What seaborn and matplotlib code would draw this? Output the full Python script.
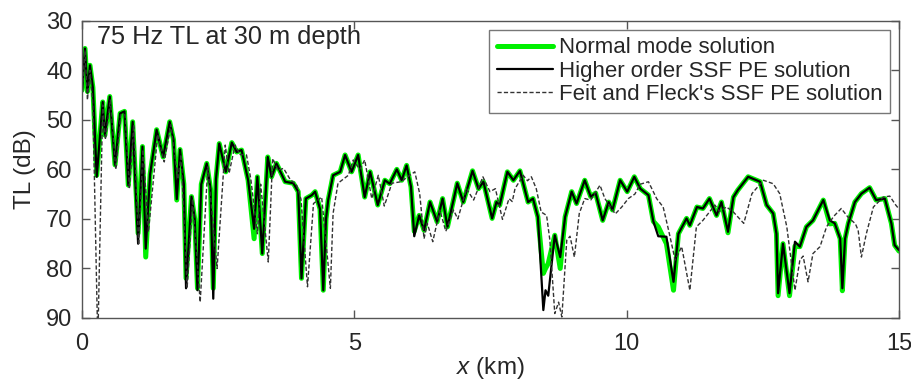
import numpy as np
import pandas as pd
import matplotlib
matplotlib.use("Agg")
import matplotlib.pyplot as plt
import seaborn as sns

# ---------------- data ----------------
range_km = [0.0, 0.055, 0.10, 0.147, 0.20, 0.27, 0.38, 0.42, 0.51, 0.606, 0.70, 0.78, 0.85, 0.93,
            1.03, 1.11, 1.17, 1.25, 1.37, 1.49, 1.61, 1.68, 1.74, 1.80, 1.87, 1.91, 2.01, 2.07,
            2.12, 2.19, 2.29, 2.36, 2.41, 2.46, 2.52, 2.64, 2.75, 2.84, 2.93, 3.05, 3.16, 3.22,
            3.31, 3.41, 3.48, 3.57, 3.73, 3.88, 3.97, 4.03, 4.11, 4.22, 4.28, 4.37, 4.43, 4.48,
            4.52, 4.61, 4.74, 4.83, 4.95, 5.07, 5.19, 5.29, 5.43, 5.56, 5.65, 5.78, 5.87, 5.96,
            6.04, 6.10, 6.19, 6.28, 6.39, 6.52, 6.62, 6.71, 6.89, 7.00, 7.17, 7.28, 7.37, 7.53,
            7.61, 7.67, 7.81, 7.92, 8.04, 8.19, 8.28, 8.37, 8.47, 8.51, 8.56, 8.68, 8.78, 8.87,
            8.99, 9.08, 9.23, 9.34, 9.43, 9.56, 9.67, 9.74, 9.88, 10.01, 10.14, 10.25, 10.40,
            10.49, 10.58, 10.73, 10.86, 10.95, 11.10, 11.16, 11.29, 11.40, 11.52, 11.65, 11.74,
            11.86, 11.96, 12.04, 12.23, 12.45, 12.57, 12.69, 12.75, 12.78, 12.87, 12.99, 13.09,
            13.18, 13.30, 13.42, 13.61, 13.73, 13.82, 13.92, 13.96, 14.01, 14.07, 14.19, 14.31,
            14.46, 14.58, 14.74, 14.86, 14.92, 15.0]

tl_normal_mode = [44.0, 35.6, 44.3, 39.0, 43.5, 61.2, 46.4, 53.1, 45.3, 59.1, 48.7, 48.3, 63.2, 50.4,
                  72.9, 55.4, 77.7, 61.0, 52.0, 57.5, 50.4, 54.0, 66.2, 56.0, 63.0, 82.0, 65.5, 70.0,
                  84.0, 63.0, 58.8, 64.0, 84.0, 62.0, 54.8, 60.5, 54.6, 56.5, 56.1, 62.2, 74.0, 61.5,
                  77.0, 57.5, 61.5, 58.8, 62.5, 62.8, 64.5, 82.0, 65.9, 65.2, 64.5, 68.0, 84.4, 70.0,
                  66.2, 61.2, 60.5, 57.1, 60.5, 57.1, 65.6, 60.5, 67.2, 62.2, 62.9, 60.0, 62.2, 59.2,
                  63.5, 72.5, 69.3, 72.3, 66.6, 70.6, 65.9, 71.6, 62.8, 66.6, 60.3, 63.9, 62.5, 69.9,
                  66.6, 67.2, 60.5, 62.2, 60.3, 66.6, 65.9, 69.6, 81.0, 80.0, 79.0, 73.3, 80.0, 69.6,
                  64.5, 66.9, 62.2, 65.5, 64.8, 70.3, 66.6, 68.2, 62.2, 64.5, 61.5, 63.9, 65.2,
                  70.5, 71.6, 75.0, 84.4, 73.0, 69.9, 71.3, 67.6, 67.9, 65.9, 69.3, 66.6,
                  72.8, 65.6, 64.2, 61.5, 62.5, 67.2, 68.9, 73.0, 85.5, 75.0, 85.5, 75.5,
                  75.6, 71.6, 70.3, 66.2, 71.0, 70.9, 74.0, 84.5, 74.0, 70.9, 66.6, 64.9,
                  63.7, 66.2, 65.9, 70.9, 75.3, 76.5]

tl_higher_order = [44.5, 35.6, 44.5, 39.0, 43.5, 61.5, 46.4, 53.1, 45.3, 59.1, 48.7, 48.3, 63.2, 50.4,
                   75.0, 55.4, 76.0, 61.0, 52.0, 57.5, 50.4, 54.0, 66.0, 56.0, 63.0, 84.0, 65.5, 70.0,
                   84.4, 63.0, 58.8, 64.0, 86.1, 62.0, 54.8, 60.5, 54.6, 56.5, 56.1, 62.2, 72.0, 61.5,
                   77.0, 57.5, 61.5, 58.8, 62.5, 62.8, 64.5, 82.0, 65.9, 65.2, 64.5, 68.0, 84.4, 70.0,
                   66.2, 61.2, 60.5, 57.1, 60.5, 57.1, 65.6, 60.5, 67.2, 62.2, 62.9, 60.0, 62.2, 59.2,
                   63.5, 73.5, 69.3, 72.3, 66.6, 70.6, 65.9, 71.6, 62.8, 66.6, 60.3, 63.9, 62.5, 69.9,
                   66.6, 67.2, 60.5, 62.2, 60.3, 66.6, 65.9, 69.6, 88.4, 84.4, 85.5, 73.3, 77.7, 69.6,
                   64.5, 66.9, 62.2, 65.5, 64.8, 70.3, 66.6, 68.2, 62.2, 64.5, 61.5, 63.9, 65.2,
                   70.5, 73.5, 73.6, 82.7, 73.0, 69.9, 71.3, 67.6, 67.9, 65.9, 69.3, 66.6,
                   72.6, 65.6, 64.2, 61.5, 62.5, 67.2, 68.9, 73.0, 85.0, 75.0, 85.0, 74.6,
                   75.6, 71.6, 70.3, 66.2, 70.3, 70.9, 74.0, 84.0, 74.0, 70.9, 66.6, 64.9,
                   63.7, 66.2, 65.9, 70.9, 75.3, 76.3]

range_km_feit = [0.0, 0.055, 0.10, 0.147, 0.20, 0.29, 0.38, 0.43, 0.52, 0.62, 0.71, 0.79, 0.87, 0.95,
                 1.04, 1.12, 1.22, 1.39, 1.51, 1.63, 1.76, 1.82, 1.93, 2.03, 2.17, 2.31, 2.48, 2.63,
                 2.70, 2.81, 2.90, 3.02, 3.10, 3.22, 3.28, 3.42, 3.50, 3.60, 3.70, 3.82, 3.94, 4.02,
                 4.14, 4.25, 4.40, 4.56, 4.61, 4.70, 4.89, 4.98, 5.10, 5.19, 5.32, 5.44, 5.55, 5.69,
                 5.86, 5.98, 6.11, 6.20, 6.28, 6.34, 6.44, 6.57, 6.68, 6.82, 6.90, 7.06, 7.19, 7.36,
                 7.49, 7.59, 7.72, 7.84, 7.90, 7.95, 8.10, 8.18, 8.25, 8.34, 8.43, 8.53, 8.59, 8.68,
                 8.75, 8.81, 8.90, 8.96, 9.04, 9.13, 9.23, 9.34, 9.51, 9.60, 9.79, 9.91, 10.03, 10.15,
                 10.25, 10.40, 10.55, 10.67, 10.77, 10.89, 11.01, 11.16, 11.28, 11.40, 11.62, 11.70,
                 11.83, 11.95, 12.15, 12.30, 12.51, 12.69, 12.81, 12.94, 13.09, 13.18, 13.24, 13.33,
                 13.42, 13.55, 13.67, 13.80, 13.94, 14.06, 14.20, 14.25, 14.31, 14.40, 14.53, 14.71,
                 14.83, 14.94, 15.0]

tl_feit_fleck = [45.0, 36.0, 46.0, 40.0, 47.0, 95.0, 47.0, 54.0, 46.0, 60.0, 49.0, 49.0, 64.0, 51.0,
                 75.3, 56.0, 72.6, 53.0, 58.5, 51.0, 62.0, 57.0, 84.0, 66.0, 86.8, 59.5, 80.0, 55.1,
                 60.8, 55.1, 57.0, 57.1, 62.0, 73.0, 63.0, 78.7, 57.8, 60.2, 59.8, 62.0, 63.2, 66.0,
                 83.7, 66.9, 65.6, 84.0, 68.9, 62.8, 61.2, 58.1, 60.0, 58.1, 65.9, 61.2, 67.4, 62.8,
                 62.5, 61.5, 60.5, 64.9, 74.0, 70.9, 74.6, 68.2, 72.5, 68.2, 70.0, 63.9, 66.2, 61.5,
                 64.5, 63.9, 70.1, 65.9, 66.5, 63.9, 61.2, 62.3, 61.5, 63.9, 68.6, 69.3, 74.3, 89.1,
                 86.8, 89.8, 74.3, 73.5, 77.7, 68.9, 65.9, 66.2, 63.2, 65.9, 69.0, 67.6, 65.9, 65.0,
                 63.0, 62.5, 65.9, 67.6, 72.3, 78.3, 75.6, 84.4, 71.6, 70.3, 67.2, 68.5,
                 67.6, 68.5, 70.9, 64.9, 62.2, 62.9, 64.9, 71.6, 84.4, 78.3, 77.5, 82.7,
                 77.0, 75.6, 71.6, 69.5, 67.9, 69.6, 71.0, 72.3, 77.7, 73.0, 67.6, 65.6,
                 65.4, 67.2, 68.0]

series_names = ["Normal mode solution", "Higher order SSF PE solution",
                "Feit and Fleck's SSF PE solution"]
title_text = "75 Hz TL at 30 m depth"
x_ticks = [0, 5, 10, 15]
y_ticks = [30, 40, 50, 60, 70, 80, 90]

df = pd.concat([
    pd.DataFrame({"x": range_km, "TL": tl_normal_mode, "series": series_names[0]}),
    pd.DataFrame({"x": range_km, "TL": tl_higher_order, "series": series_names[1]}),
    pd.DataFrame({"x": range_km_feit, "TL": tl_feit_fleck, "series": series_names[2]}),
])

# ---------------- styling ----------------
sns.set_theme(style="ticks")
plt.rcParams["font.family"] = ["Liberation Sans", "DejaVu Sans"]
plt.rcParams["mathtext.fontset"] = "custom"
plt.rcParams["mathtext.it"] = "Liberation Sans:italic"
plt.rcParams["mathtext.rm"] = "Liberation Sans"

fig = plt.figure(figsize=(9.12, 3.84), dpi=100)
ax = fig.add_axes([82 / 912, 1 - 318 / 384, (899 - 82) / 912, (318 - 20.7) / 384])

styles = {
    series_names[0]: dict(color="#00f000", lw=3.6, ls="-"),
    series_names[1]: dict(color="black", lw=1.6, ls="-"),
    series_names[2]: dict(color="#333333", lw=1.0, ls=(0, (3, 1.6))),
}
for name in series_names:
    st = styles[name]
    sns.lineplot(data=df[df["series"] == name], x="x", y="TL", ax=ax, estimator=None,
                 sort=False, color=st["color"], linewidth=st["lw"], linestyle=st["ls"],
                 label=name, solid_joinstyle="round")

ax.set_xlim(0, 15)
ax.set_ylim(90, 30)
ax.set_xticks(x_ticks)
ax.set_yticks(y_ticks)
ax.tick_params(direction="in", length=6, width=1, color="#555555", labelsize=17,
               top=True, right=True)
ax.tick_params(axis="x", pad=11)
ax.tick_params(axis="y", pad=7)
for s in ax.spines.values():
    s.set_color("#555555")
    s.set_linewidth(1.0)
ax.set_xlabel("$x$ (km)", fontsize=17.5, labelpad=0)
ax.set_ylabel("TL (dB)", fontsize=17.5, labelpad=7)
ax.text(0.018, 0.985, title_text, transform=ax.transAxes, fontsize=18.3,
        va="top", ha="left")

leg = ax.legend(loc="upper right", fontsize=16, frameon=True, fancybox=False,
                edgecolor="#555555", handlelength=2.5, labelspacing=0.1,
                borderaxespad=0.4, borderpad=0.35, handletextpad=0.27)
leg.get_frame().set_linewidth(1.0)

fig.savefig("out.png", dpi=100)
